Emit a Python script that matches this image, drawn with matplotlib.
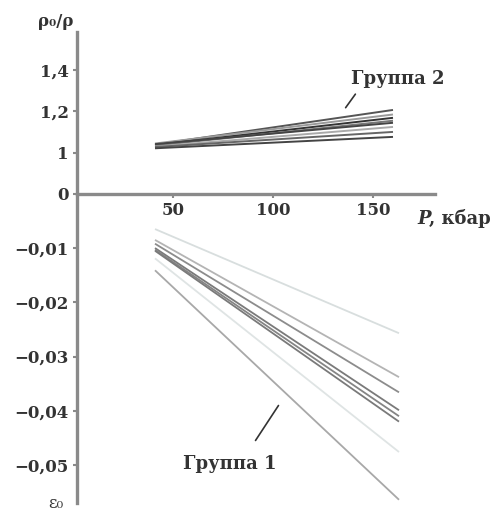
import numpy as np
import matplotlib
matplotlib.use("Agg")
import matplotlib.pyplot as plt

plt.rcParams["font.family"] = ["DejaVu Serif", "DejaVu Sans"]

# группа 1: деформация eps0 при P = 41 и P = 163 кбар
p1 = [41, 163]
g1_start = [-0.0065, -0.0085, -0.0092, -0.0100, -0.0103, -0.0105, -0.0119, -0.0141]
g1_end = [-0.0257, -0.0338, -0.0366, -0.0399, -0.0410, -0.0420, -0.0476, -0.0564]
g1_colors = ["#d8dede", "#b4b4b4", "#8c8c8c", "#7a7a7a", "#858585", "#7a7a7a", "#dfe4e4", "#a8a8a8"]

# группа 2: rho0/rho при P = 41 и P = 160 кбар
p2 = [41, 160]
g2_start = [1.040, 1.045, 1.038, 1.035, 1.042, 1.030, 1.028, 1.022]
g2_end = [1.207, 1.185, 1.169, 1.155, 1.145, 1.125, 1.101, 1.077]
g2_colors = ["#555555", "#9a9a9a", "#333333", "#777777", "#444444", "#aaaaaa", "#666666", "#444444"]

yticks = [1.4, 1.2, 1.0, 0.0, -0.01, -0.02, -0.03, -0.04, -0.05]
ytick_labels = ["1,4", "1,2", "1", "0", "\u22120,01", "\u22120,02", "\u22120,03", "\u22120,04", "\u22120,05"]
xticks = [50, 100, 150]


# разрывная шкала: отрицательная часть, 0..1 и выше 1
def fwd(y):
    y = np.asarray(y, dtype=float)
    return np.where(y <= 0, y * 5430.0,
                    np.where(y <= 1, y * 41.0, 41.0 + (y - 1) * 207.5))


def inv(v):
    v = np.asarray(v, dtype=float)
    return np.where(v <= 0, v / 5430.0,
                    np.where(v <= 41.0, v / 41.0, 1 + (v - 41.0) / 207.5))


W, H = 501, 513
fig = plt.figure(figsize=(W / 100, H / 100), dpi=100)
ax = fig.add_axes([77 / W, 1 - 503 / H, 358 / W, 471 / H])
ax.set_yscale("function", functions=(fwd, inv))
ax.set_xlim(2, 181)
ax.set_ylim(-0.057, 1.583)

for s, e, c in zip(g1_start, g1_end, g1_colors):
    ax.plot(p1, [s, e], color=c, lw=1.3, solid_capstyle="butt")
for s, e, c in zip(g2_start, g2_end, g2_colors):
    ax.plot(p2, [s, e], color=c, lw=1.4, solid_capstyle="butt")

axis_col = "#8a8a8a"
txt_col = "#333333"
for side in ["top", "right"]:
    ax.spines[side].set_visible(False)
ax.spines["left"].set_color(axis_col)
ax.spines["left"].set_linewidth(2.4)
ax.spines["bottom"].set_position(("data", 0))
ax.spines["bottom"].set_color(axis_col)
ax.spines["bottom"].set_linewidth(2.4)

ax.set_yticks(yticks)
ax.set_yticklabels(ytick_labels)
ax.set_xticks(xticks)
ax.set_xticklabels([str(v) for v in xticks])
ax.tick_params(direction="out", length=3, width=1.5, color=axis_col,
               labelcolor=txt_col, labelsize=12, pad=3)
for lab in ax.get_yticklabels() + ax.get_xticklabels():
    lab.set_fontweight("bold")

ax.annotate("", xy=(135.5, 1.207), xytext=(142, 1.294),
            arrowprops=dict(arrowstyle="-", color="#333333", lw=1.2))
ax.text(139, 1.33, "Группа 2", fontsize=13, fontweight="bold", color=txt_col)
ax.annotate("", xy=(90.5, -0.0459), xytext=(103.5, -0.0386),
            arrowprops=dict(arrowstyle="-", color="#333333", lw=1.2))
ax.text(55, -0.0508, "Группа 1", fontsize=13, fontweight="bold", color=txt_col)

fig.text(417 / W, 1 - 224 / H, "P", fontsize=13, fontweight="bold",
         fontstyle="italic", color=txt_col)
fig.text(429 / W, 1 - 224 / H, ", кбар", fontsize=13, fontweight="bold", color=txt_col)
fig.text(38 / W, 1 - 26 / H, "ρ\u2080/ρ", fontsize=12, fontweight="bold", color=txt_col)
fig.text(48 / W, 1 - 508 / H, "ε\u2080", fontsize=12, color=txt_col)

fig.savefig("out.png", dpi=100)
